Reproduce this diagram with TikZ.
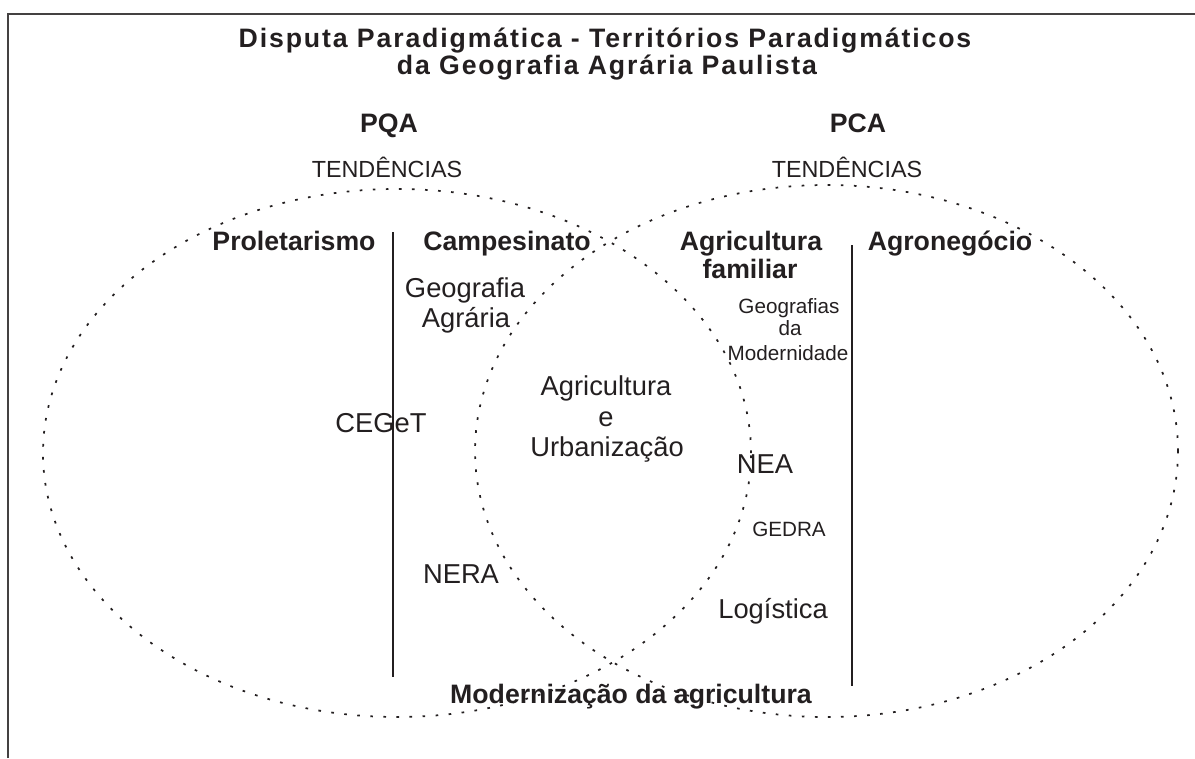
\documentclass[tikz,border=0pt]{standalone}
\usepackage{fontspec}
\setmainfont{Liberation Sans}
\newfontfamily\titlefont[LetterSpace=7]{Liberation Sans}
\usepackage{tikz}
\definecolor{ink}{RGB}{35,31,32}

\tikzset{
  venn/.style={draw=ink,line width=1.3pt,dash pattern=on 2pt off 7.8pt},
  divider/.style={draw=ink,line width=1.2pt},
  frameline/.style={draw=ink!85,line width=1.5pt},
  titletxt/.style={anchor=base,inner sep=0pt,text=ink,font=\titlefont\bfseries\fontsize{20}{20}\selectfont},
  boldtxt/.style={anchor=base,inner sep=0pt,text=ink,font=\bfseries\fontsize{20}{20}\selectfont},
  bigtxt/.style={anchor=base,inner sep=0pt,text=ink,font=\fontsize{20.5}{20.5}\selectfont},
  midtxt/.style={anchor=base,inner sep=0pt,text=ink,font=\fontsize{17.5}{17.5}\selectfont},
  smalltxt/.style={anchor=base,inner sep=0pt,text=ink,font=\fontsize{15.5}{15.5}\selectfont}
}

\begin{document}
\begin{tikzpicture}[x=0.75pt,y=-0.75pt]
\useasboundingbox (0,0) rectangle (1195,758);
% frame
\coordinate (fb) at (8,758);
\coordinate (fc) at (8,14);
\coordinate (fr) at (1195,14);
\draw[frameline] (fb) -- (fc) -- (fr);
% title
\node[titletxt] (title1) at (605,47) {Disputa Paradigmática - Territórios Paradigmáticos};
\node[titletxt] (title2) at (607,74) {da Geografia Agrária Paulista};
% paradigms
\node[boldtxt] (pqa) at (389,132) {PQA};
\node[boldtxt] (pca) at (858,132) {PCA};
\node[midtxt] (tendl) at (387,177) {TENDÊNCIAS};
\node[midtxt] (tendr) at (847,177) {TENDÊNCIAS};
% territories
\draw[venn] (397,453) ellipse [x radius=265.5pt,y radius=198pt];
\draw[venn] (826.5,451) ellipse [x radius=263.6pt,y radius=199.5pt];
% dividers
\coordinate (dl1) at (393,232);
\coordinate (dl2) at (393,677);
\coordinate (dr1) at (852,245);
\coordinate (dr2) at (852,686);
\draw[divider] (dl1) -- (dl2);
\draw[divider] (dr1) -- (dr2);
% tendencies
\node[boldtxt] (prol) at (294,250) {Proletarismo};
\node[boldtxt] (camp) at (507,250) {Campesinato};
\node[boldtxt] (agfam1) at (751,250) {Agricultura};
\node[boldtxt] (agfam2) at (750,278) {familiar};
\node[boldtxt] (agro) at (950,250) {Agronegócio};
% groups
\node[bigtxt] (geo1) at (465,297) {Geografia};
\node[bigtxt] (geo2) at (466,327) {Agrária};
\node[smalltxt] (mod1) at (789,313) {Geografias};
\node[smalltxt] (mod2) at (790,335) {da};
\node[smalltxt] (mod3) at (788,360) {Modernidade};
\node[bigtxt] (ceget) at (381,432) {CEGeT};
\node[bigtxt] (agurb1) at (606,395) {Agricultura};
\node[bigtxt] (agurb2) at (606,426) {e};
\node[bigtxt] (agurb3) at (607,456) {Urbanização};
\node[bigtxt] (nea) at (765,473) {NEA};
\node[smalltxt] (gedra) at (789,536) {GEDRA};
\node[bigtxt] (nera) at (461,583) {NERA};
\node[bigtxt] (logi) at (773,618) {Logística};
\node[boldtxt] (moder) at (631,703) {Modernização da agricultura};
\end{tikzpicture}
\end{document}
